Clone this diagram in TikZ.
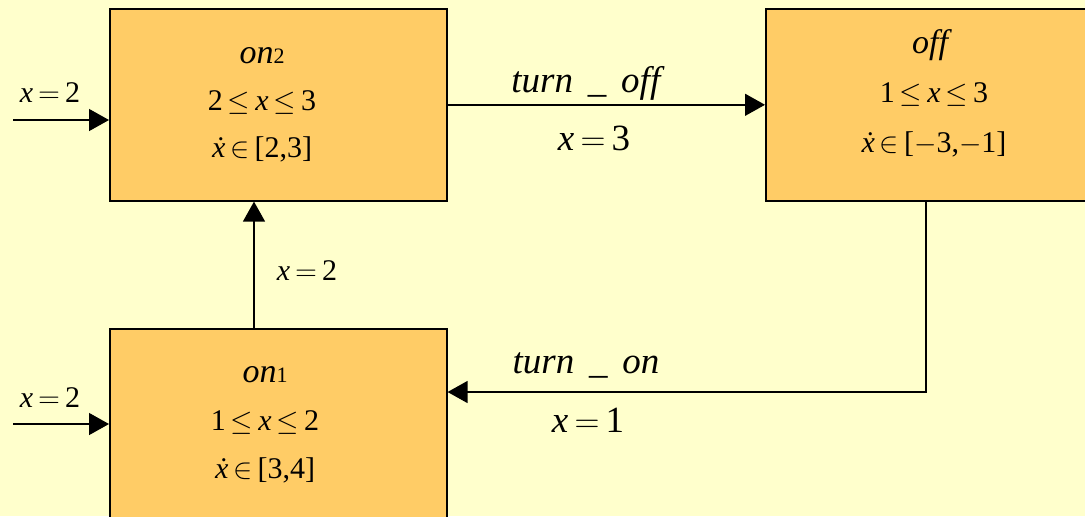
\documentclass[tikz,border=0pt]{standalone}
\usepackage{fontspec}
\setmainfont{Liberation Serif}
\usetikzlibrary{arrows.meta}
\definecolor{bg}{HTML}{FFFFCC}
\definecolor{boxfill}{HTML}{FFCC66}
\newcommand{\fs}[1]{\fontsize{#1}{#1}\selectfont}
\newcommand{\gap}{\hspace{0.4em}}
\begin{document}
\begin{tikzpicture}[x=0.5pt,y=-0.5pt,
  state/.style={draw=black, fill=boxfill, line width=0.8pt, minimum width=168.5pt,
    minimum height=96pt, inner sep=0pt, anchor=north west},
  arr/.style={draw=black, line width=0.7pt, -{Triangle[length=10pt,width=11pt]}},
  txt/.style={anchor=base, inner sep=0pt, font=\fs{15}},
  lbl/.style={anchor=base, inner sep=0pt, font=\fs{18.5}},
  small/.style={anchor=base, inner sep=0pt, font=\fs{15}}]
\path[use as bounding box, fill=bg] (0,0) rectangle (1085,516);
\clip (0,0) rectangle (1085,516);
% states
\node[state] (on2) at (109,8) {};
\node[state] (off) at (765,8) {};
\node[state, minimum height=100pt] (on1) at (109,328) {};
% state texts
\node[txt] (on2n) at (262,63) {{\fs{17}\textit{on}}{\fs{11}2}};
\node[txt] (on2a) at (262,110) {2\,$\leq$\,\textit{x}\,$\leq$\,3};
\node[txt] (on2b) at (262,157) {\textit{\.x}\,$\in$\,[2,3]};
\node[txt] (offn) at (932,53) {{\fs{17}\textit{off}}};
\node[txt] (offa) at (934,102) {1\,$\leq$\,\textit{x}\,$\leq$\,3};
\node[txt] (offb) at (934,152) {\textit{\.x}\,$\in$\,[$-$3,$-$1]};
\node[txt] (on1n) at (265,382) {{\fs{17}\textit{on}}{\fs{11}1}};
\node[txt] (on1a) at (265,430) {1\,$\leq$\,\textit{x}\,$\leq$\,2};
\node[txt] (on1b) at (265,478) {\textit{\.x}\,$\in$\,[3,4]};
% connectors
\draw[arr] (on2.east) -- (off.west);
\draw[arr] ([xshift=80.5pt]off.south west) |- ([yshift=-32pt]on1.north east);
\draw[arr] ([xshift=72.5pt]on1.north west) -- ([xshift=72.5pt]on2.south west);
\coordinate (in2) at (13,120);
\coordinate (in1) at (13,424);
\draw[arr] (in2) -- (in2 -| on2.west);
\draw[arr] (in1) -- (in1 -| on1.west);
% labels
\node[lbl] (toff) at (588,92) {\textit{turn}\gap\_\gap\textit{off}};
\node[lbl] (g3) at (594,150) {\textit{x}\,$=$\,3};
\node[lbl] (ton) at (586,373) {\textit{turn}\gap\_\gap\textit{on}};
\node[lbl] (g1) at (588,432) {\textit{x}\,$=$\,1};
\node[small] (i2) at (50,102) {\textit{x}\,$=$\,2};
\node[small] (i1) at (50,407) {\textit{x}\,$=$\,2};
\node[small] (g2) at (307,280) {\textit{x}\,$=$\,2};
\end{tikzpicture}
\end{document}
